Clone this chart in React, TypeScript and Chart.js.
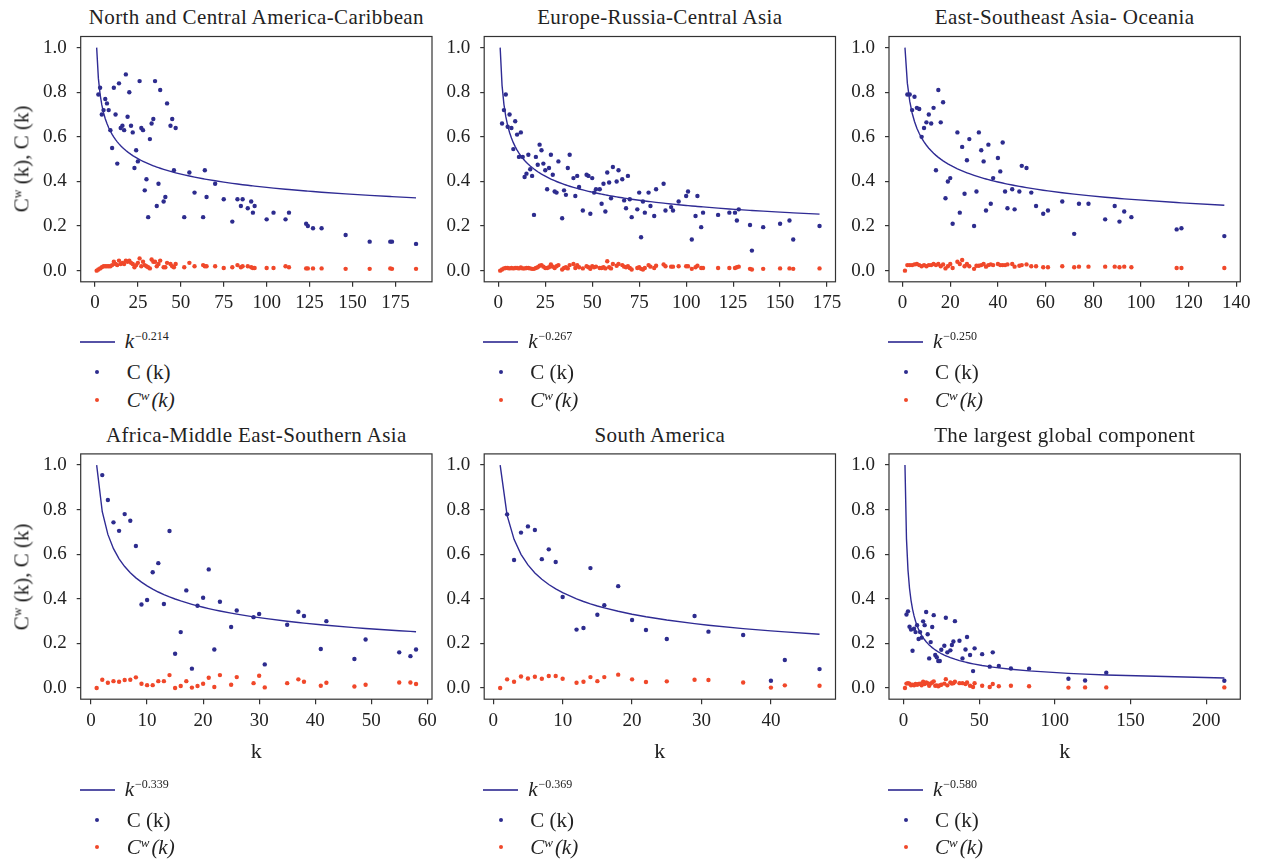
import React, { useEffect, useRef } from "react";
import { Chart, registerables } from "chart.js";

Chart.register(...registerables);

// ---------------- DATA ----------------
const titles = [
  "North and Central America-Caribbean",
  "Europe-Russia-Central Asia",
  "East-Southeast Asia- Oceania",
  "Africa-Middle East-Southern Asia",
  "South America",
  "The largest global component",
];

const exponents = [0.214, 0.267, 0.25, 0.339, 0.369, 0.58];
const exponentLabels = ["−0.214", "−0.267", "−0.250", "−0.339", "−0.369", "−0.580"];

// Panel 1: North and Central America-Caribbean
const k1 = [1, 2, 3, 4, 5, 6, 7, 8, 9, 10, 11, 12, 13, 14, 15, 16, 17, 18, 19, 20, 21, 22, 23, 24, 25, 26, 27, 28, 29, 30, 31, 32, 33, 34, 35, 36, 37, 38, 40, 41, 42, 44, 45, 46, 47, 52, 55, 58, 63, 64, 65, 70, 75, 80, 83, 85, 86, 89, 91, 92, 93, 100, 104, 111, 113, 123, 124, 127, 132, 146, 160, 172, 173, 187];
const c1 = [null, 0.79, 0.82, 0.7, 0.72, 0.77, 0.75, 0.72, 0.63, 0.55, 0.82, 0.7, 0.48, 0.84, 0.64, 0.65, 0.63, 0.88, 0.69, 0.8, 0.65, 0.62, 0.46, 0.54, 0.49, 0.85, 0.64, 0.63, 0.36, 0.41, 0.24, 0.59, 0.66, 0.68, 0.85, 0.29, 0.39, 0.81, 0.31, 0.33, 0.75, 0.65, 0.68, 0.45, 0.64, 0.24, 0.44, 0.35, 0.24, 0.45, 0.33, 0.39, 0.32, 0.22, 0.32, 0.29, 0.32, 0.28, 0.31, 0.26, 0.29, 0.23, 0.26, 0.23, 0.26, 0.21, 0.2, 0.19, 0.19, 0.16, 0.13, 0.13, 0.13, 0.12];
const cw1 = [0.0, 0.005, 0.01, 0.015, 0.02, 0.02, 0.02, 0.02, 0.02, 0.025, 0.04, 0.03, 0.025, 0.045, 0.03, 0.035, 0.03, 0.045, 0.04, 0.045, 0.035, 0.03, 0.015, 0.025, 0.035, 0.055, 0.02, 0.04, 0.025, 0.02, 0.015, 0.01, 0.05, 0.04, 0.04, 0.02, 0.03, 0.045, 0.015, 0.015, 0.035, 0.03, 0.02, 0.015, 0.03, 0.015, 0.035, 0.02, 0.025, 0.02, 0.02, 0.02, 0.012, 0.015, 0.025, 0.015, 0.02, 0.02, 0.015, 0.012, 0.012, 0.012, 0.012, 0.02, 0.015, 0.01, 0.01, 0.01, 0.01, 0.008, 0.008, 0.01, 0.008, 0.008];

// Panel 2: Europe-Russia-Central Asia
const k2 = [1, 2, 3, 4, 5, 6, 7, 8, 9, 10, 11, 12, 13, 14, 15, 16, 17, 18, 19, 20, 21, 22, 23, 24, 25, 26, 27, 28, 29, 30, 31, 32, 34, 35, 36, 37, 38, 40, 41, 42, 43, 45, 47, 48, 49, 50, 51, 52, 54, 55, 56, 57, 58, 59, 60, 61, 63, 64, 66, 67, 68, 69, 70, 71, 74, 75, 76, 77, 78, 80, 81, 83, 84, 88, 89, 92, 93, 96, 100, 101, 103, 105, 106, 108, 109, 117, 123, 126, 127, 128, 134, 135, 141, 150, 155, 157, 171];
const c2 = [null, 0.66, 0.72, 0.79, 0.645, 0.7, 0.64, 0.545, 0.67, 0.61, 0.51, 0.62, 0.51, 0.42, 0.435, 0.52, 0.455, 0.425, 0.25, 0.51, 0.475, 0.565, 0.54, 0.48, 0.45, 0.365, 0.46, 0.52, 0.43, 0.355, 0.35, 0.49, 0.235, 0.36, 0.34, 0.46, 0.52, 0.415, 0.335, 0.425, 0.375, 0.27, 0.43, 0.425, 0.255, 0.415, 0.35, 0.365, 0.365, 0.3, 0.39, 0.265, 0.44, 0.395, 0.325, 0.465, 0.4, 0.45, 0.41, 0.315, 0.28, 0.425, 0.32, 0.24, 0.275, 0.35, 0.15, 0.31, 0.26, 0.35, 0.29, 0.245, 0.365, 0.39, 0.27, 0.285, 0.27, 0.31, 0.335, 0.355, 0.14, 0.245, 0.335, 0.195, 0.26, 0.25, 0.26, 0.26, 0.225, 0.275, 0.205, 0.09, 0.195, 0.21, 0.225, 0.14, 0.2];
const cw2 = [0.0, 0.005, 0.01, 0.012, 0.012, 0.01, 0.012, 0.01, 0.012, 0.012, 0.01, 0.014, 0.01, 0.01, 0.012, 0.012, 0.01, 0.008, 0.008, 0.012, 0.015, 0.022, 0.025, 0.018, 0.012, 0.012, 0.015, 0.028, 0.018, 0.012, 0.02, 0.025, 0.005, 0.012, 0.015, 0.01, 0.025, 0.03, 0.012, 0.025, 0.015, 0.01, 0.02, 0.015, 0.008, 0.02, 0.015, 0.018, 0.012, 0.012, 0.015, 0.01, 0.042, 0.015, 0.01, 0.03, 0.022, 0.03, 0.025, 0.018, 0.015, 0.02, 0.012, 0.005, 0.012, 0.015, 0.008, 0.005, 0.012, 0.025, 0.018, 0.012, 0.022, 0.028, 0.02, 0.018, 0.018, 0.02, 0.02, 0.02, 0.008, 0.015, 0.022, 0.012, 0.012, 0.012, 0.012, 0.012, 0.015, 0.018, 0.008, 0.005, 0.008, 0.01, 0.01, 0.008, 0.01];

// Panel 3: East-Southeast Asia- Oceania
const k3 = [1, 2, 3, 4, 5, 6, 7, 8, 9, 10, 11, 12, 13, 14, 15, 16, 17, 18, 19, 20, 21, 23, 24, 25, 26, 27, 28, 30, 31, 32, 33, 34, 35, 36, 37, 38, 40, 41, 42, 43, 44, 46, 47, 49, 50, 52, 54, 56, 59, 61, 67, 72, 74, 78, 85, 89, 91, 93, 96, 115, 117, 135];
const c3 = [null, 0.79, 0.79, 0.72, 0.78, 0.73, 0.725, 0.6, 0.64, 0.665, 0.7, 0.66, 0.73, 0.45, 0.81, 0.665, 0.755, 0.325, 0.4, 0.415, 0.21, 0.62, 0.26, 0.555, 0.345, 0.495, 0.59, 0.2, 0.355, 0.62, 0.54, 0.49, 0.27, 0.565, 0.3, 0.415, 0.505, 0.445, 0.575, 0.355, 0.28, 0.365, 0.275, 0.355, 0.47, 0.46, 0.35, 0.29, 0.255, 0.27, 0.31, 0.165, 0.3, 0.3, 0.23, 0.29, 0.22, 0.265, 0.24, 0.185, 0.19, 0.155];
const cw3 = [0.0, 0.025, 0.025, 0.025, 0.028, 0.03, 0.025, 0.02, 0.025, 0.02, 0.025, 0.025, 0.03, 0.025, 0.03, 0.02, 0.028, 0.01, 0.02, 0.03, 0.012, 0.04, 0.03, 0.048, 0.02, 0.03, 0.02, 0.008, 0.022, 0.022, 0.025, 0.03, 0.018, 0.025, 0.028, 0.025, 0.03, 0.025, 0.025, 0.025, 0.028, 0.03, 0.018, 0.022, 0.025, 0.028, 0.02, 0.02, 0.015, 0.015, 0.02, 0.015, 0.018, 0.018, 0.018, 0.018, 0.015, 0.018, 0.015, 0.012, 0.012, 0.012];

// Panel 4: Africa-Middle East-Southern Asia
const k4 = [1, 2, 3, 4, 5, 6, 7, 8, 9, 10, 11, 12, 13, 14, 15, 16, 17, 18, 19, 20, 21, 22, 23, 25, 26, 29, 30, 31, 35, 37, 38, 41, 42, 47, 49, 55, 57, 58];
const c4 = [null, 0.955, 0.843, 0.743, 0.705, 0.78, 0.75, 0.637, 0.375, 0.395, 0.519, 0.56, 0.377, 0.704, 0.154, 0.251, 0.438, 0.087, 0.369, 0.405, 0.532, 0.173, 0.387, 0.274, 0.348, 0.318, 0.332, 0.106, 0.284, 0.342, 0.323, 0.175, 0.3, 0.13, 0.218, 0.16, 0.143, 0.173];
const cw4 = [0.0, 0.037, 0.024, 0.031, 0.028, 0.036, 0.037, 0.048, 0.019, 0.013, 0.013, 0.031, 0.031, 0.058, 0.0, 0.009, 0.031, 0.002, 0.009, 0.019, 0.046, 0.005, 0.058, 0.015, 0.049, 0.022, 0.055, 0.003, 0.022, 0.039, 0.028, 0.01, 0.024, 0.007, 0.015, 0.025, 0.025, 0.018];

// Panel 5: South America
const k5 = [1, 2, 3, 4, 5, 6, 7, 8, 9, 10, 12, 13, 14, 15, 16, 18, 20, 22, 25, 29, 31, 36, 40, 42, 47];
const c5 = [null, 0.779, 0.574, 0.697, 0.725, 0.709, 0.578, 0.622, 0.565, 0.408, 0.262, 0.269, 0.538, 0.329, 0.371, 0.457, 0.305, 0.26, 0.22, 0.323, 0.253, 0.238, 0.033, 0.126, 0.085];
const cw5 = [0.0, 0.039, 0.028, 0.052, 0.043, 0.051, 0.042, 0.054, 0.054, 0.042, 0.024, 0.028, 0.049, 0.031, 0.049, 0.06, 0.039, 0.027, 0.03, 0.037, 0.036, 0.025, 0.002, 0.012, 0.01];

// Panel 6: The largest global component
const k6 = [1, 2, 3, 4, 5, 6, 7, 8, 9, 10, 11, 12, 13, 14, 15, 16, 17, 18, 19, 20, 21, 22, 23, 24, 25, 27, 28, 29, 31, 32, 33, 34, 37, 39, 41, 42, 44, 46, 47, 52, 57, 59, 63, 71, 83, 109, 120, 134, 212];
const c6 = [null, 0.33, 0.344, 0.275, 0.262, 0.167, 0.266, 0.251, 0.282, 0.22, 0.251, 0.226, 0.299, 0.282, 0.341, 0.241, 0.133, 0.206, 0.274, 0.327, 0.148, 0.138, 0.121, 0.121, 0.172, 0.19, 0.315, 0.16, 0.169, 0.193, 0.209, 0.3, 0.212, 0.133, 0.173, 0.229, 0.148, 0.076, 0.178, 0.152, 0.096, 0.16, 0.099, 0.088, 0.087, 0.042, 0.034, 0.069, 0.033];
const cw6 = [0.0, 0.02, 0.022, 0.02, 0.012, 0.015, 0.012, 0.018, 0.015, 0.018, 0.02, 0.012, 0.028, 0.018, 0.025, 0.022, 0.01, 0.02, 0.025, 0.03, 0.01, 0.012, 0.008, 0.012, 0.015, 0.02, 0.04, 0.012, 0.025, 0.02, 0.022, 0.028, 0.022, 0.022, 0.018, 0.025, 0.01, 0.005, 0.022, 0.01, 0.005, 0.018, 0.008, 0.01, 0.008, 0.002, 0.003, 0.003, 0.003];

// Tick labels
const xTicks1 = [0, 25, 50, 75, 100, 125, 150, 175];
const xTicks2 = [0, 25, 50, 75, 100, 125, 150, 175];
const xTicks3 = [0, 20, 40, 60, 80, 100, 120, 140];
const xTicks4 = [0, 10, 20, 30, 40, 50, 60];
const xTicks5 = [0, 10, 20, 30, 40];
const xTicks6 = [0, 50, 100, 150, 200];
const yTicks = [0, 0.2, 0.4, 0.6, 0.8, 1.0];

const kValues = [k1, k2, k3, k4, k5, k6];
const cValues = [c1, c2, c3, c4, c5, c6];
const cwValues = [cw1, cw2, cw3, cw4, cw5, cw6];
const xTickSets = [xTicks1, xTicks2, xTicks3, xTicks4, xTicks5, xTicks6];

// ---------------- STYLE / LAYOUT ----------------
const SERIF = '"Liberation Serif", "Times New Roman", serif';
const LINE_COLOR = "#2f2b94";
const BLUE = "#2d2c8e";
const RED = "#f0482a";
const AXIS = "#333333";
const TEXT = "#222222";

const BOX_LEFTS = [80.7, 484.2, 889];
const BOX_TOPS = [36.5, 453.9];
const BOX_W = 351.3;
const BOX_H = 245.3;
const YW = 62;
const PT = 8;
const PR = 24;
const XH = 42;

const frameBox = {
  id: "frameBox",
  afterDraw(chart: any) {
    const { ctx, chartArea: a } = chart;
    ctx.save();
    ctx.strokeStyle = AXIS;
    ctx.lineWidth = 1.2;
    ctx.strokeRect(a.left, a.top, a.right - a.left, a.bottom - a.top);
    ctx.restore();
  },
};

function PanelChart({ idx, left, top }: { idx: number; left: number; top: number }) {
  const ref = useRef<HTMLCanvasElement | null>(null);
  const cLeft = Math.floor(left - YW);
  const leftSpace = left - cLeft;
  const cTop = Math.floor(top - PT);
  const topSpace = top - cTop;
  const width = Math.ceil(leftSpace + BOX_W + PR);
  const height = Math.ceil(topSpace + BOX_H + XH);

  useEffect(() => {
    if (!ref.current) return;
    const ks = kValues[idx];
    const cs = cValues[idx];
    const cws = cwValues[idx];
    const xt = xTickSets[idx];
    const kmin = Math.min(...ks);
    const kmax = Math.max(...ks);
    const span = kmax - kmin;
    const curve = ks.map((k) => ({ x: k, y: Math.pow(k, -exponents[idx]) }));
    const blue = ks.map((k, i) => ({ x: k, y: cs[i] })).filter((p) => p.y !== null);
    const red = ks.map((k, i) => ({ x: k, y: cws[i] }));
    const tickFont = { family: SERIF, size: 19 };
    const zeroPad = (s: any) => {
      s.paddingLeft = 0;
      s.paddingRight = 0;
      s.paddingTop = 0;
      s.paddingBottom = 0;
    };
    const chart = new Chart(ref.current, {
      type: "scatter",
      data: {
        datasets: [
          { data: blue, backgroundColor: BLUE, borderWidth: 0, pointRadius: 2.2, pointHoverRadius: 2.2 },
          { data: red, backgroundColor: RED, borderWidth: 0, pointRadius: 2.2, pointHoverRadius: 2.2 },
          { data: curve, showLine: true, borderColor: LINE_COLOR, borderWidth: 1.4, pointRadius: 0, fill: false, tension: 0 },
        ],
      } as any,
      options: {
        animation: false,
        responsive: false,
        maintainAspectRatio: false,
        devicePixelRatio: 1,
        events: [],
        layout: { padding: { top: topSpace, left: 0, right: width - leftSpace - BOX_W, bottom: 0 } },
        plugins: { legend: { display: false }, tooltip: { enabled: false } },
        scales: {
          x: {
            type: "linear",
            min: kmin - 0.05 * span,
            max: kmax + 0.05 * span,
            afterBuildTicks: (s: any) => {
              s.ticks = xt.map((v) => ({ value: v }));
            },
            afterFit: (s: any) => {
              s.height = height - topSpace - BOX_H;
              zeroPad(s);
            },
            border: { display: false },
            grid: { drawOnChartArea: false, drawTicks: true, tickLength: 5, color: AXIS, lineWidth: 1.2 },
            ticks: { font: tickFont, color: TEXT, padding: 5, maxRotation: 0, autoSkip: false, callback: (v: any) => String(v) },
          },
          y: {
            type: "linear",
            min: -0.05,
            max: 1.05,
            afterBuildTicks: (s: any) => {
              s.ticks = yTicks.map((v) => ({ value: v }));
            },
            afterFit: (s: any) => {
              s.width = leftSpace;
              zeroPad(s);
            },
            border: { display: false },
            grid: { drawOnChartArea: false, drawTicks: true, tickLength: 4, color: AXIS, lineWidth: 1.2 },
            ticks: { font: tickFont, color: TEXT, padding: 10, autoSkip: false, callback: (v: any) => Number(v).toFixed(1) },
          },
        },
      } as any,
      plugins: [frameBox],
    });
    return () => chart.destroy();
  }, [idx]);

  return (
    <canvas
      ref={ref}
      width={width}
      height={height}
      style={{ position: "absolute", left: cLeft, top: cTop, width, height }}
    />
  );
}

function Legend({ idx, left, lineY, row1, row2 }: { idx: number; left: number; lineY: number; row1: number; row2: number }) {
  const textLeft = left + 46;
  const dotX = left + 16.6;
  return (
    <>
      <div style={{ position: "absolute", left: left - 1, top: lineY - 1, width: 35, height: 2, background: "#5652a6" }} />
      <div style={{ position: "absolute", left: textLeft - 2, top: lineY, transform: "translateY(-55%)", fontSize: 21, whiteSpace: "nowrap", lineHeight: 1 }}>
        <i>k</i>
        <sup style={{ fontSize: 12, verticalAlign: "0.7em", marginLeft: 1 }}>{exponentLabels[idx]}</sup>
      </div>
      <div style={{ position: "absolute", left: dotX - 2, top: row1 - 2, width: 4, height: 4, borderRadius: 2, background: BLUE }} />
      <div style={{ position: "absolute", left: textLeft, top: row1, transform: "translateY(-50%)", fontSize: 21, whiteSpace: "nowrap", lineHeight: 1 }}>
        C (k)
      </div>
      <div style={{ position: "absolute", left: dotX - 2, top: row2 - 2, width: 4, height: 4, borderRadius: 2, background: RED }} />
      <div style={{ position: "absolute", left: textLeft, top: row2, transform: "translateY(-50%)", fontSize: 21, whiteSpace: "nowrap", lineHeight: 1, fontStyle: "italic" }}>
        C<sup style={{ fontSize: 13, verticalAlign: "0.55em" }}>w</sup>
        <span style={{ marginLeft: 2 }}>(k)</span>
      </div>
    </>
  );
}

export default function App() {
  const items = [];
  for (let i = 0; i < 6; i++) {
    const row = Math.floor(i / 3);
    const col = i % 3;
    const left = BOX_LEFTS[col];
    const top = BOX_TOPS[row];
    const cx = left + BOX_W / 2;
    const bottom = top + BOX_H;
    items.push(
      <React.Fragment key={i}>
        <div
          style={{ position: "absolute", left: cx, top: row === 0 ? 17 : 434.5, transform: "translate(-50%, -50%)", fontSize: 21, whiteSpace: "nowrap", letterSpacing: 0.4, lineHeight: 1 }}
        >
          {titles[i]}
        </div>
        <PanelChart idx={i} left={left} top={top} />
        {col === 0 && (
          <div
            style={{ position: "absolute", left: 22, top: top + BOX_H / 2, transform: "translate(-50%, -50%) rotate(-90deg)", fontSize: 21, whiteSpace: "nowrap", lineHeight: 1 }}
          >
            C<sup style={{ fontSize: 12, verticalAlign: "0.6em" }}>w</sup> (k), C (k)
          </div>
        )}
        {row === 1 && (
          <div style={{ position: "absolute", left: cx, top: 750.5, transform: "translate(-50%, -50%)", fontSize: 22, lineHeight: 1 }}>k</div>
        )}
        {row === 0 ? (
          <Legend idx={i} left={left} lineY={bottom + 59.9} row1={bottom + 89.7} row2={bottom + 117.7} />
        ) : (
          <Legend idx={i} left={left} lineY={bottom + 90.85} row1={bottom + 120.85} row2={bottom + 148.15} />
        )}
      </React.Fragment>
    );
  }
  return (
    <div
      style={{ position: "absolute", left: 0, top: 0, width: 1262, height: 862, background: "#ffffff", fontFamily: SERIF, color: TEXT, overflow: "hidden" }}
    >
      {items}
    </div>
  );
}
